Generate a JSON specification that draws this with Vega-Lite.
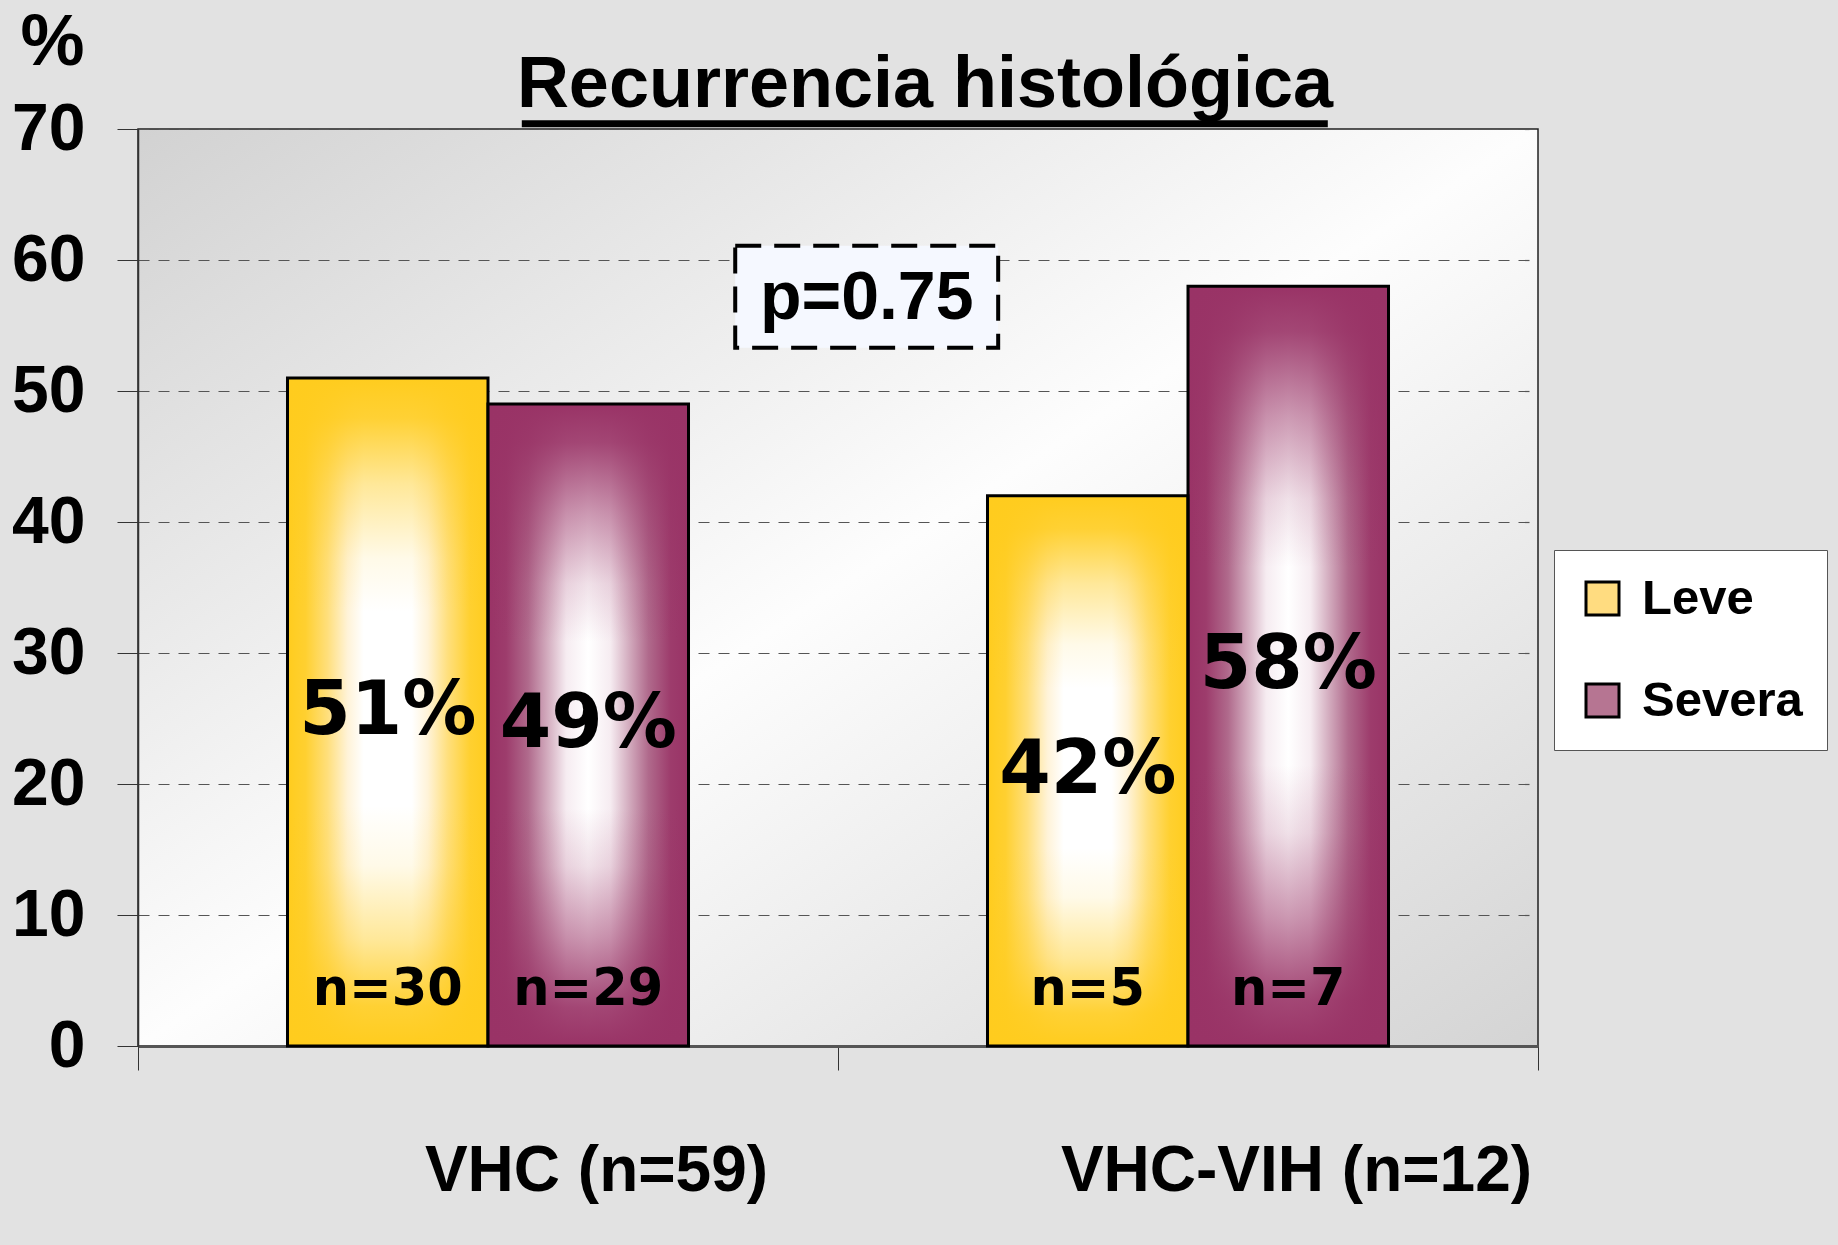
{
  "$schema": "https://vega.github.io/schema/vega-lite/v6.json",
  "width": 1400,
  "height": 917,
  "autosize": "none",
  "padding": {"left": 138, "top": 129, "right": 300, "bottom": 199},
  "background": "#e2e2e2",
  "view": {
    "stroke": "#222222",
    "strokeWidth": 1.5,
    "fill": {"gradient": "linear", "x1": 0, "y1": 0, "x2": 1, "y2": 1,
      "stops": [{"offset": 0, "color": "#d2d2d2"}, {"offset": 0.5, "color": "#fdfdfd"}, {"offset": 1, "color": "#d4d4d4"}]}
  },
  "title": {
    "text": "Recurrencia histológica",
    "font": "Liberation Sans",
    "fontSize": 72,
    "fontWeight": "bold",
    "color": "black",
    "anchor": "middle",
    "frame": "group",
    "dx": 87,
    "baseline": "alphabetic",
    "offset": -173
  },
  "datasets": {
    "bars": [
      {"cat": "VHC (n=59)", "sev": "Leve", "value": 51, "pct": "51%", "n": "n=30"},
      {"cat": "VHC (n=59)", "sev": "Severa", "value": 49, "pct": "49%", "n": "n=29"},
      {"cat": "VHC-VIH (n=12)", "sev": "Leve", "value": 42, "pct": "42%", "n": "n=5"},
      {"cat": "VHC-VIH (n=12)", "sev": "Severa", "value": 58, "pct": "58%", "n": "n=7"}
    ],
    "note": [{"label": "p=0.75"}]
  },
  "layer": [
    {
      "data": {"name": "bars"},
      "mark": {"type": "bar"},
      "encoding": {
        "x": {
          "field": "cat", "type": "nominal",
          "scale": {"paddingInner": 0, "paddingOuter": 0},
          "axis": {
            "title": null, "labelAngle": 0,
            "labelFont": "Liberation Sans", "labelFontSize": 64, "labelFontWeight": "bold", "labelColor": "black",
            "labelOffset": 108, "labelPadding": 120, "labelBaseline": "alphabetic", "labelLimit": 1000,
            "tickBand": "extent", "tickSize": 24, "tickColor": "#333333", "tickWidth": 1,
            "domainColor": "#555555", "domainWidth": 3, "grid": false
          }
        },
        "xOffset": {"field": "sev", "type": "nominal", "scale": {"paddingInner": 0, "paddingOuter": 0.7456}},
        "y": {
          "field": "value", "type": "quantitative", "stack": null,
          "scale": {"domain": [0, 70], "nice": false},
          "axis": {
            "title": "%", "titleAngle": 0, "titleX": -86, "titleY": -87, "titleAlign": "center", "titleBaseline": "middle",
            "titleFont": "Liberation Sans", "titleFontSize": 72, "titleFontWeight": "bold", "titleColor": "black",
            "values": [0, 10, 20, 30, 40, 50, 60, 70],
            "labelFont": "Liberation Sans", "labelFontSize": 66, "labelFontWeight": "bold", "labelColor": "black",
            "labelPadding": 32, "tickSize": 21, "tickColor": "#333333", "domainColor": "#333333", "domainWidth": 1.5,
            "grid": true, "gridDash": [11, 9], "gridColor": "#555555", "gridWidth": 1.2, "gridOpacity": 1
          }
        },
        "fill": {
          "field": "sev", "type": "nominal",
          "scale": {"domain": ["Leve", "Severa"], "range": ["#ffdc80", "#b67592"]},
          "legend": {
            "orient": "none", "legendX": 1416, "legendY": 421, "title": null,
            "fillColor": "white", "strokeColor": "#555555", "padding": 24,
            "symbolType": "square", "symbolSize": 1089, "symbolStrokeColor": "black", "symbolStrokeWidth": 3, "symbolOpacity": 1,
            "labelFont": "Liberation Sans", "labelFontSize": 49, "labelFontWeight": "bold", "labelColor": "black",
            "labelOffset": 15, "rowPadding": 52, "labelLimit": 500
          }
        }
      }
    },
    {
      "data": {"name": "bars"},
      "mark": {"type": "bar"},
      "encoding": {
        "x": {"field": "cat", "type": "nominal", "title": null},
        "xOffset": {"field": "sev", "type": "nominal"},
        "y": {"field": "value", "type": "quantitative", "stack": null, "scale": {"domain": [0, 70], "nice": false}, "axis": null},
        "fill": {
          "condition": {"test": "datum.sev === 'Leve'", "value": {"gradient": "linear", "x1": 0, "y1": 0, "x2": 1, "y2": 0,
            "stops": [{"offset": 0, "color": "#ffcc1e"}, {"offset": 0.09, "color": "#ffd030"}, {"offset": 0.2, "color": "#ffdf7c"}, {"offset": 0.3, "color": "#fff3d8"}, {"offset": 0.38, "color": "#ffffff"}, {"offset": 0.62, "color": "#ffffff"}, {"offset": 0.7, "color": "#fff3d8"}, {"offset": 0.8, "color": "#ffdf7c"}, {"offset": 0.91, "color": "#ffd030"}, {"offset": 1, "color": "#ffcc1e"}]}},
          "value": {"gradient": "linear", "x1": 0, "y1": 0, "x2": 1, "y2": 0,
            "stops": [{"offset": 0, "color": "#993366"}, {"offset": 0.09, "color": "#9d3c6c"}, {"offset": 0.2, "color": "#b06a8c"}, {"offset": 0.3, "color": "#d4aec0"}, {"offset": 0.39, "color": "#f6ecf1"}, {"offset": 0.5, "color": "#ffffff"}, {"offset": 0.61, "color": "#f6ecf1"}, {"offset": 0.7, "color": "#d4aec0"}, {"offset": 0.8, "color": "#b06a8c"}, {"offset": 0.91, "color": "#9d3c6c"}, {"offset": 1, "color": "#993366"}]}
        }
      }
    },
    {
      "data": {"name": "bars"},
      "mark": {"type": "bar", "stroke": "black", "strokeWidth": 3},
      "encoding": {
        "x": {"field": "cat", "type": "nominal", "title": null},
        "xOffset": {"field": "sev", "type": "nominal"},
        "y": {"field": "value", "type": "quantitative", "stack": null, "scale": {"domain": [0, 70], "nice": false}, "axis": null},
        "fill": {
          "condition": {"test": "datum.sev === 'Leve'", "value": {"gradient": "linear", "x1": 0, "y1": 0, "x2": 0, "y2": 1,
            "stops": [{"offset": 0, "color": "rgba(255,204,30,1)"}, {"offset": 0.06, "color": "rgba(255,204,30,0.9)"}, {"offset": 0.16, "color": "rgba(255,204,30,0.45)"}, {"offset": 0.27, "color": "rgba(255,204,30,0.1)"}, {"offset": 0.35, "color": "rgba(255,204,30,0)"}, {"offset": 0.64, "color": "rgba(255,204,30,0)"}, {"offset": 0.73, "color": "rgba(255,204,30,0.1)"}, {"offset": 0.84, "color": "rgba(255,204,30,0.45)"}, {"offset": 0.94, "color": "rgba(255,204,30,0.9)"}, {"offset": 1, "color": "rgba(255,204,30,1)"}]}},
          "value": {"gradient": "linear", "x1": 0, "y1": 0, "x2": 0, "y2": 1,
            "stops": [{"offset": 0, "color": "rgba(153,51,102,1)"}, {"offset": 0.06, "color": "rgba(153,51,102,0.9)"}, {"offset": 0.17, "color": "rgba(153,51,102,0.5)"}, {"offset": 0.28, "color": "rgba(153,51,102,0.15)"}, {"offset": 0.37, "color": "rgba(153,51,102,0)"}, {"offset": 0.63, "color": "rgba(153,51,102,0)"}, {"offset": 0.72, "color": "rgba(153,51,102,0.15)"}, {"offset": 0.83, "color": "rgba(153,51,102,0.5)"}, {"offset": 0.94, "color": "rgba(153,51,102,0.9)"}, {"offset": 1, "color": "rgba(153,51,102,1)"}]}
        }
      }
    },
    {
      "data": {"name": "bars"},
      "mark": {"type": "text", "font": "DejaVu Sans", "fontSize": 74, "fontWeight": "bold", "color": "black", "baseline": "middle", "align": "center"},
      "encoding": {
        "x": {"field": "cat", "type": "nominal", "title": null},
        "xOffset": {"field": "sev", "type": "nominal"},
        "y": {"field": "value", "type": "quantitative", "stack": null, "scale": {"domain": [0, 140], "nice": false}, "axis": null},
        "text": {"field": "pct"}
      }
    },
    {
      "data": {"name": "bars"},
      "mark": {"type": "text", "font": "DejaVu Sans", "fontSize": 51, "fontWeight": "bold", "color": "black", "baseline": "alphabetic", "align": "center", "dy": -41},
      "encoding": {
        "x": {"field": "cat", "type": "nominal", "title": null},
        "xOffset": {"field": "sev", "type": "nominal"},
        "y": {"datum": 0, "type": "quantitative", "scale": {"domain": [0, 70], "nice": false}, "axis": null},
        "text": {"field": "n"}
      }
    },
    {
      "data": {"name": "note"},
      "mark": {"type": "point", "shape": "M-2.578,-1H2.578V1H-2.578Z", "size": 10404, "filled": true, "fill": "#f5f8ff", "stroke": "black", "strokeWidth": 4, "strokeDash": [26, 13], "opacity": 1, "clip": false},
      "encoding": {
        "x": {"datum": "VHC-VIH (n=12)", "type": "nominal", "bandPosition": 0.041, "title": null},
        "y": {"datum": 57.2, "type": "quantitative", "scale": {"domain": [0, 70], "nice": false}, "axis": null}
      }
    },
    {
      "data": {"name": "note"},
      "mark": {"type": "text", "font": "Liberation Sans", "fontSize": 68, "fontWeight": "bold", "color": "black", "baseline": "alphabetic", "align": "center", "clip": false},
      "encoding": {
        "x": {"datum": "VHC-VIH (n=12)", "type": "nominal", "bandPosition": 0.041, "title": null},
        "y": {"datum": 55.5, "type": "quantitative", "scale": {"domain": [0, 70], "nice": false}, "axis": null},
        "text": {"field": "label"}
      }
    },
    {
      "data": {"name": "note"},
      "mark": {"type": "point", "shape": "M-1,0H1", "size": 649636, "filled": false, "stroke": "black", "strokeWidth": 7, "opacity": 1, "clip": false},
      "encoding": {
        "x": {"datum": "VHC-VIH (n=12)", "type": "nominal", "bandPosition": 0.124, "title": null},
        "y": {"datum": 70.4, "type": "quantitative", "scale": {"domain": [0, 70], "nice": false}, "axis": null}
      }
    }
  ],
  "resolve": {"scale": {"y": "independent"}, "axis": {"y": "independent"}}
}
